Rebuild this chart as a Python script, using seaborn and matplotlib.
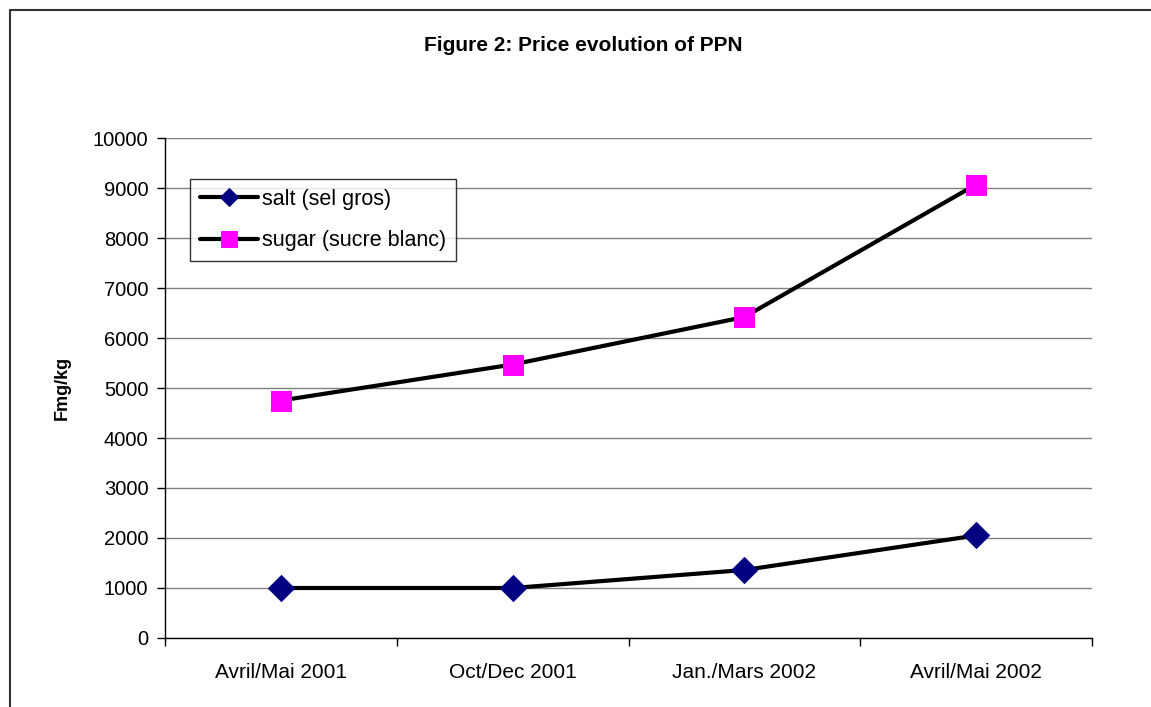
import matplotlib
matplotlib.use("Agg")
import matplotlib.pyplot as plt
import seaborn as sns
import pandas as pd
from matplotlib.patches import Rectangle

periods = ["Avril/Mai 2001", "Oct/Dec 2001", "Jan./Mars 2002", "Avril/Mai 2002"]
salt = [1000, 1000, 1360, 2050]
sugar = [4750, 5470, 6420, 9070]

df = pd.DataFrame({"period": periods, "salt": salt, "sugar": sugar})

sns.set_style("white")
plt.rcParams["font.family"] = ["Liberation Sans", "DejaVu Sans"]

fig = plt.figure(figsize=(11.51, 7.07), dpi=100)
ax = fig.add_axes([0.1434, 0.0976, 0.8053, 0.7072])

sns.lineplot(x="period", y="salt", data=df, ax=ax, color="black", linewidth=3,
             marker="D", markersize=13, markerfacecolor="#000080",
             markeredgecolor="#000080", label="salt (sel gros)", sort=False)
sns.lineplot(x="period", y="sugar", data=df, ax=ax, color="black", linewidth=3,
             marker="s", markersize=15, markerfacecolor="#FF00FF",
             markeredgecolor="#FF00FF", label="sugar (sucre blanc)", sort=False)

ax.set_ylim(0, 10000)
ax.set_xlim(-0.5, 3.5)
ax.set_yticks(range(0, 10001, 1000))
ax.yaxis.grid(True, color="#808080", linewidth=1)
ax.xaxis.grid(False)
ax.set_axisbelow(True)

ax.set_xticks(range(4))
ax.set_xticklabels(periods)
ax.set_xticks([i - 0.5 for i in range(5)], minor=True)
ax.tick_params(axis="x", which="major", length=0, labelsize=15, pad=18, labelcolor="black")
ax.tick_params(axis="x", which="minor", length=6, width=1, color="black", direction="out", bottom=True)
ax.tick_params(axis="y", length=6, width=1, color="black", direction="out", left=True,
               labelsize=14.5, pad=6, labelcolor="black")

for s in ["top", "right"]:
    ax.spines[s].set_visible(False)
for s in ["left", "bottom"]:
    ax.spines[s].set_color("black")
    ax.spines[s].set_linewidth(1)

ax.set_xlabel("")
ax.set_ylabel("Fmg/kg", fontsize=13, fontweight="bold", labelpad=16, color="black")

fig.text(0.507, 0.935, "Figure 2: Price evolution of PPN", ha="center", va="center",
         fontsize=15, fontweight="bold", color="black")

leg = ax.legend(loc="upper left", bbox_to_anchor=(0.027, 0.918), fontsize=15.5,
                frameon=True, fancybox=False, borderpad=0.45, handlelength=2.7,
                handletextpad=0.2, labelspacing=0.95, borderaxespad=0)
leg.get_frame().set_edgecolor("black")
leg.get_frame().set_linewidth(1)
hs = leg.legend_handles
hs[0].set_markersize(9)
hs[1].set_markersize(11)
for t in leg.get_texts():
    t.set_color("black")

fig.patches.append(Rectangle((0.009, -0.05), 1.2, 1.036, transform=fig.transFigure,
                             fill=False, edgecolor="#333333", linewidth=1.5))

fig.savefig("out.png", dpi=100)
